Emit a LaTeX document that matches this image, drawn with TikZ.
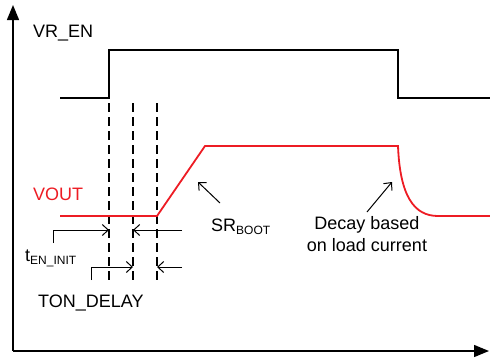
\documentclass[tikz,border=0pt]{standalone}
\usepackage{fontspec}
\setmainfont{Liberation Sans}
\usetikzlibrary{arrows.meta}
\definecolor{vred}{RGB}{237,28,36}
\tikzset{
  wave/.style={line width=1.8pt, line join=miter},
  axisline/.style={line width=1.4pt, -{Triangle[length=15pt,width=12pt]}},
  guide/.style={line width=1.1pt, dash pattern=on 9pt off 5pt},
  marker/.style={line width=1pt, -{Straight Barb[length=6pt,width=11pt,line width=1pt]}},
  lbl/.style={inner sep=0pt, anchor=base west, font=\fontsize{18}{22}\selectfont},
}
\newcommand{\subtxt}[1]{\raisebox{-3.5pt}{\fontsize{12}{12}\selectfont #1}}
\begin{document}
\begin{tikzpicture}[x=1pt,y=-1pt]
\useasboundingbox (0,0) rectangle (490,360);
% axes
\coordinate (o) at (13,351);
\coordinate (ytop) at (13,5);
\coordinate (xend) at (489,351);
\draw[axisline] (o) -- (ytop);
\draw[axisline] (o) -- (xend);
% VR_EN waveform
\draw[wave] (60,98) -- (109,98) -- (109,50) -- (398,50) -- (398,98) -- (490,98);
% dashed guides
\foreach \x/\n in {109/ga,133/gb,157/gc}{
  \coordinate (\n t) at (\x,103);
  \coordinate (\n b) at (\x,284);
  \draw[guide] (\n t) -- (\n b);
}
% VOUT waveform
\draw[wave, vred] (60,216) -- (157,216) -- (205,146) -- (398,146)
  .. controls (400,196) and (414,216) .. (438,216) -- (490,216);
% labels
\node[lbl] (vren) at (33,37) {VR\_EN};
\node[lbl, text=vred] (vout) at (33,200) {VOUT};
\node[lbl] (tinit) at (25,261) {t\subtxt{EN\_INIT}};
\node[lbl] (tond) at (38,307) {TON\_DELAY};
\node[lbl] (srboot) at (211,231) {SR\subtxt{BOOT}};
\node[inner sep=0pt, anchor=base, align=center, font=\fontsize{18}{22}\selectfont] (decay) at (367,251) {Decay based\\on load current};
% t_EN_INIT markers
\coordinate (a1) at (53,243);
\coordinate (a2) at (53,230);
\coordinate (a3) at (109,230);
\coordinate (a4) at (182,230);
\coordinate (a5) at (133,230);
\draw[marker] (a1) -- (a2) -- (a3);
\draw[marker] (a4) -- (a5);
% TON_DELAY markers
\coordinate (b1) at (91,280);
\coordinate (b2) at (91,267);
\coordinate (b3) at (133,267);
\coordinate (b4) at (182,267);
\coordinate (b5) at (157,267);
\draw[marker] (b1) -- (b2) -- (b3);
\draw[marker] (b4) -- (b5);
% SR_BOOT pointer
\coordinate (s1) at (220,203);
\coordinate (s2) at (198,182);
\draw[marker] (s1) -- (s2);
% decay pointer
\coordinate (d1) at (367,212);
\coordinate (d2) at (392,182);
\draw[marker] (d1) -- (d2);
\end{tikzpicture}
\end{document}
